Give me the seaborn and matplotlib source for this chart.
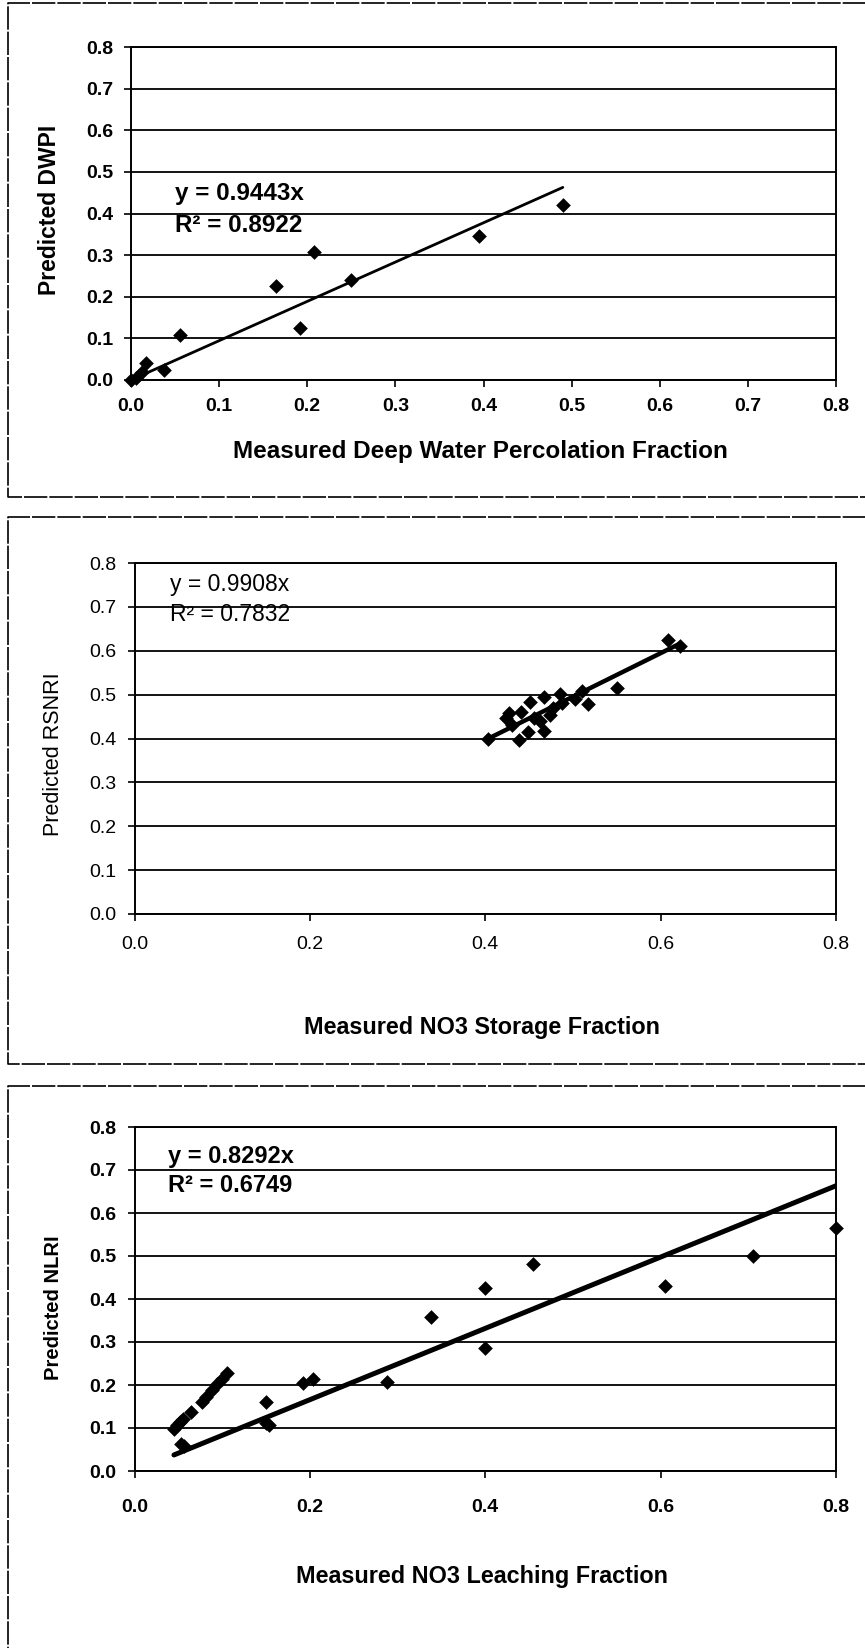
import numpy as np
import pandas as pd
import seaborn as sns
import matplotlib.pyplot as plt
from matplotlib.lines import Line2D

sns.set_theme(style="white")
plt.rcParams['font.family'] = ['Liberation Sans', 'DejaVu Sans']

# ---- Deep water percolation ----
dwp_measured = [0.000, 0.006, 0.012, 0.017, 0.037, 0.056, 0.165, 0.192, 0.208, 0.250, 0.395, 0.490]
dwp_predicted = [0.000, 0.006, 0.020, 0.040, 0.025, 0.108, 0.225, 0.125, 0.308, 0.240, 0.347, 0.420]
dwp_slope, dwp_r2 = 0.9443, 0.8922

# ---- NO3 storage ----
sto_measured = [0.403, 0.424, 0.427, 0.430, 0.438, 0.441, 0.449, 0.451, 0.456, 0.462, 0.467,
                0.467, 0.474, 0.477, 0.485, 0.487, 0.502, 0.510, 0.517, 0.550, 0.608, 0.622]
sto_predicted = [0.400, 0.446, 0.458, 0.430, 0.396, 0.460, 0.415, 0.484, 0.446, 0.440, 0.494,
                 0.417, 0.453, 0.470, 0.501, 0.481, 0.491, 0.508, 0.479, 0.515, 0.624, 0.611]
sto_slope, sto_r2 = 0.9908, 0.7832

# ---- NO3 leaching ----
lch_measured = [0.045, 0.048, 0.052, 0.055, 0.057, 0.053, 0.065, 0.077, 0.082, 0.088, 0.094,
                0.100, 0.105, 0.150, 0.150, 0.153, 0.192, 0.204, 0.288, 0.338, 0.400, 0.400,
                0.455, 0.605, 0.705, 0.800]
lch_predicted = [0.098, 0.108, 0.115, 0.121, 0.058, 0.062, 0.137, 0.160, 0.172, 0.188, 0.202,
                 0.213, 0.227, 0.160, 0.112, 0.108, 0.205, 0.215, 0.207, 0.357, 0.285, 0.425,
                 0.482, 0.430, 0.500, 0.565]
lch_slope, lch_r2 = 0.8292, 0.6749

y_ticks = [0.0, 0.1, 0.2, 0.3, 0.4, 0.5, 0.6, 0.7, 0.8]

W, H = 865, 1648
fig = plt.figure(figsize=(W / 100, H / 100), dpi=100)
fig.patch.set_facecolor('white')


def px_axes(left, top, right, bottom):
    return fig.add_axes([left / W, 1 - bottom / H, (right - left) / W, (bottom - top) / H])


def frame_box(left, top, right, bottom):
    xs = [right / W, left / W, left / W, right / W]
    ys = [1 - top / H, 1 - top / H, 1 - bottom / H, 1 - bottom / H]
    fig.add_artist(Line2D(xs, ys, transform=fig.transFigure, color='black',
                          lw=1.2, ls=(0, (14, 1.2)), clip_on=False))


def panel(ax, x, y, slope, r2, x_ticks, xlabel, ylabel, fit_lw, xpad, xlab_y, ylab_y,
          txt_xy, xlab_size, ylab_size, txt_size, tick_weight='bold', ylab_weight='bold',
          txt_weight='bold'):
    pts = pd.DataFrame({'measured': x, 'predicted': y})
    xs = np.array([min(x), max(x)])
    fit = pd.DataFrame({'measured': xs, 'predicted': slope * xs})
    sns.lineplot(data=fit, x='measured', y='predicted', color='black', lw=fit_lw,
                 ax=ax, zorder=3)
    sns.scatterplot(data=pts, x='measured', y='predicted', marker='D', s=56,
                    color='black', edgecolor='black', linewidth=0, ax=ax, zorder=4,
                    clip_on=False)
    ax.set_xlim(0, 0.8)
    ax.set_ylim(0, 0.8)
    ax.set_yticks(y_ticks)
    ax.set_xticks(x_ticks)
    ax.set_yticklabels([f'{v:.1f}' for v in y_ticks], fontsize=14, fontweight=tick_weight)
    ax.set_xticklabels([f'{v:.1f}' for v in x_ticks], fontsize=14, fontweight=tick_weight)
    ax.yaxis.grid(True, color='black', lw=1.3)
    ax.xaxis.grid(False)
    ax.set_axisbelow(True)
    for s in ax.spines.values():
        s.set_color('black')
        s.set_linewidth(1.4)
        s.set_visible(True)
    ax.tick_params(axis='y', direction='out', length=5, width=1.2, pad=8, left=True,
                   colors='black')
    ax.tick_params(axis='x', direction='out', length=5, width=1.2, pad=xpad, bottom=True,
                   colors='black')
    ax.set_xlabel(xlabel, fontsize=xlab_size, fontweight='bold', color='black')
    ax.set_ylabel(ylabel, fontsize=ylab_size, fontweight=ylab_weight, color='black')
    ax.xaxis.set_label_coords(0.495, xlab_y)
    ax.xaxis.label.set_va('center')
    ax.yaxis.set_label_coords(-0.115, ylab_y)
    ax.yaxis.label.set_va('center')
    tx, ty1, ty2 = txt_xy
    ax.text(tx, ty1, f'y = {slope:.4f}x', fontsize=txt_size, fontweight=txt_weight,
            va='center', ha='left', color='black', zorder=5)
    ax.text(tx, ty2, f'R\u00b2 = {r2:.4f}', fontsize=txt_size, fontweight=txt_weight,
            va='center', ha='left', color='black', zorder=5)
    ax.set_facecolor('white')


# chart area frames
frame_box(8, 3, 880, 497)
frame_box(8, 517, 880, 1064)
frame_box(8, 1086, 880, 1660)

ax1 = px_axes(131, 47, 836, 380)
panel(ax1, dwp_measured, dwp_predicted, dwp_slope, dwp_r2,
      [0.0, 0.1, 0.2, 0.3, 0.4, 0.5, 0.6, 0.7, 0.8],
      'Measured Deep Water Percolation Fraction', 'Predicted DWPI',
      fit_lw=2.0, xpad=8, xlab_y=-0.216, ylab_y=0.51,
      txt_xy=(0.05, 0.447, 0.372), xlab_size=17.5, ylab_size=16.5, txt_size=17.5)

ax2 = px_axes(134.5, 563, 836, 914)
panel(ax2, sto_measured, sto_predicted, sto_slope, sto_r2,
      [0.0, 0.2, 0.4, 0.6, 0.8],
      'Measured NO3 Storage Fraction', 'Predicted RSNRI',
      fit_lw=3.2, xpad=11, xlab_y=-0.322, ylab_y=0.456,
      txt_xy=(0.04, 0.750, 0.683), xlab_size=16.8, ylab_size=15.5, txt_size=16.5,
      tick_weight='normal', ylab_weight='normal', txt_weight='normal')

ax3 = px_axes(134.5, 1127, 836, 1471)
panel(ax3, lch_measured, lch_predicted, lch_slope, lch_r2,
      [0.0, 0.2, 0.4, 0.6, 0.8],
      'Measured NO3 Leaching Fraction', 'Predicted NLRI',
      fit_lw=3.6, xpad=15, xlab_y=-0.308, ylab_y=0.474,
      txt_xy=(0.038, 0.732, 0.664), xlab_size=16.8, ylab_size=14.5, txt_size=17)

fig.savefig('out.png', dpi=100, facecolor='white')
